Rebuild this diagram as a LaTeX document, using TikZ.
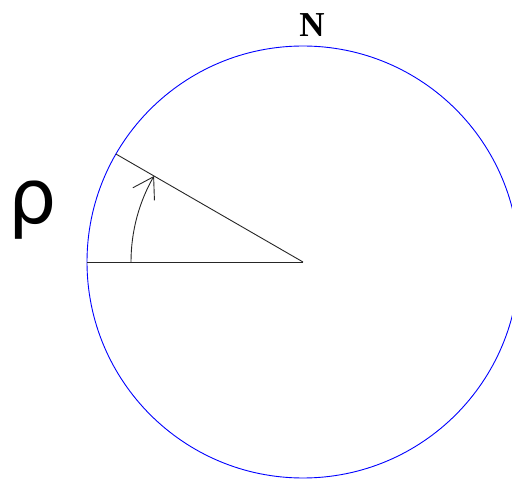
\documentclass[tikz,border=0pt]{standalone}
\usepackage{fontspec}
\setmainfont{Liberation Serif}
\newfontfamily\rhofont{DejaVu Sans}
\usetikzlibrary{arrows.meta,calc}
\begin{document}
\begin{tikzpicture}[x=1pt,y=-1pt,
  ray/.style={draw=black!85, line width=0.9pt},
  rim/.style={draw=blue, line width=0.9pt},
  angarrow/.style={draw=black!85, line width=0.9pt, -{Straight Barb[length=20pt,width=25pt]}}]
\useasboundingbox (0,0) rectangle (512,481);
\coordinate (O) at (303,262);
\begin{scope}
\clip (0,0) rectangle (512,481);
\draw[rim] (O) circle [radius=216];
\end{scope}
\coordinate (A) at ($(O)+(-216,0)$);
\coordinate (B) at ($(O)+(-187.1,-108)$);
\coordinate (S) at ($(O)+(-172,0)$);
\draw[ray] (O) -- (A);
\draw[ray] (O) -- (B);
\draw[angarrow] (S) arc [start angle=180, end angle=210, radius=172];
\node[font=\bfseries\fontsize{35}{35}\selectfont, inner sep=0pt] (N) at (312,25) {N};
\node[font=\rhofont\fontsize{76}{76}\selectfont, inner sep=0pt] (rho) at (33,210) {ρ};
\end{tikzpicture}
\end{document}
